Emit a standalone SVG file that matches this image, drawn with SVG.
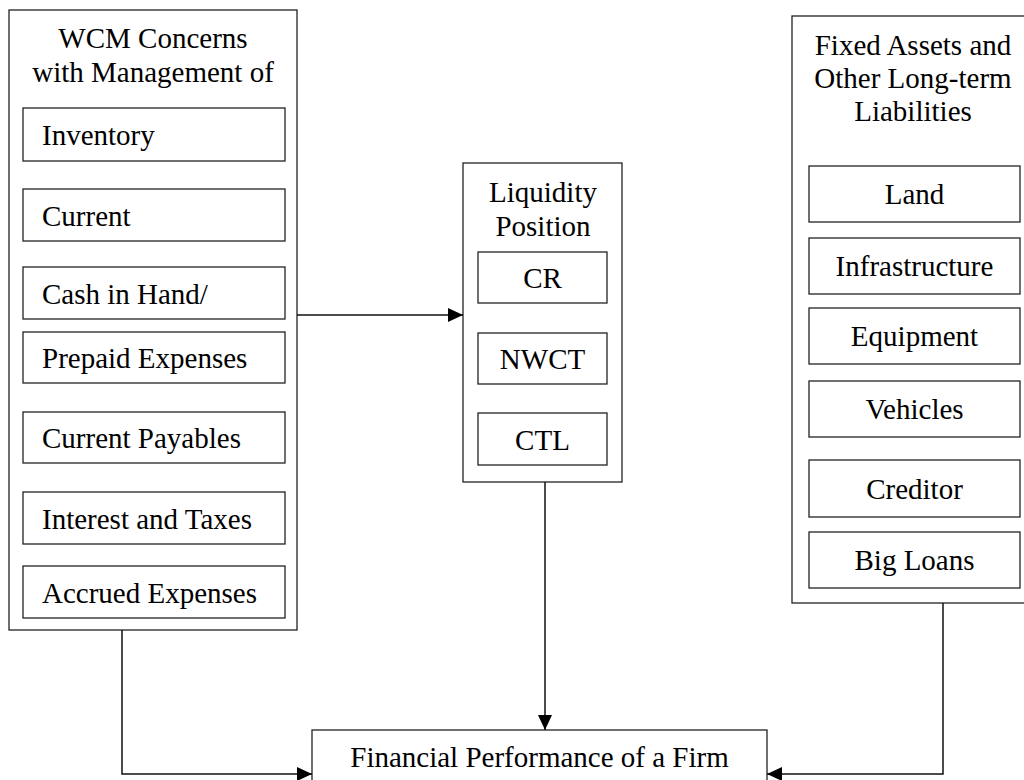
<svg xmlns="http://www.w3.org/2000/svg" width="1024" height="780" viewBox="0 0 1024 780">
<style>
.box{fill:#fff;stroke:#222;stroke-width:1.3}
.t{font-family:"Liberation Serif","Times New Roman",serif;font-size:29px;fill:#000}
.c{text-anchor:middle}
.conn{fill:none;stroke:#111;stroke-width:1.5}
</style>
<defs>
<marker id="arr" markerUnits="userSpaceOnUse" markerWidth="16" markerHeight="15" refX="15" refY="7" orient="auto">
<path d="M0,0 L15,7 L0,14 z" fill="#000"/>
</marker>
</defs>
<rect width="1024" height="780" fill="#fff"/>
<g id="wcm">
<rect class="box" x="9" y="10" width="288" height="620"/>
<text class="t c" x="153" y="48">WCM Concerns</text>
<text class="t c" x="153" y="82">with Management of</text>
</g>
<g id="inventory"><rect class="box" x="23" y="108" width="262" height="53"/><text class="t" x="42" y="145">Inventory</text></g>
<g id="current"><rect class="box" x="23" y="189" width="262" height="52"/><text class="t" x="42" y="225.5">Current</text></g>
<g id="cash"><rect class="box" x="23" y="267" width="262" height="52"/><text class="t" x="42" y="303.5">Cash in Hand/</text></g>
<g id="prepaid"><rect class="box" x="23" y="332" width="262" height="51"/><text class="t" x="42" y="368">Prepaid Expenses</text></g>
<g id="payables"><rect class="box" x="23" y="412" width="262" height="51"/><text class="t" x="42" y="448">Current Payables</text></g>
<g id="interest"><rect class="box" x="23" y="492" width="262" height="52"/><text class="t" x="42" y="528.5">Interest and Taxes</text></g>
<g id="accrued"><rect class="box" x="23" y="566" width="262" height="52"/><text class="t" x="42" y="602.5">Accrued Expenses</text></g>

<g id="liquidity">
<rect class="box" x="463" y="163" width="159" height="319"/>
<text class="t c" x="543" y="202">Liquidity</text>
<text class="t c" x="543" y="236">Position</text>
</g>
<g id="cr"><rect class="box" x="478" y="252" width="129" height="51"/><text class="t c" x="542.5" y="288">CR</text></g>
<g id="nwct"><rect class="box" x="478" y="333" width="129" height="51"/><text class="t c" x="542.5" y="369">NWCT</text></g>
<g id="ctl"><rect class="box" x="478" y="413" width="129" height="52"/><text class="t c" x="542.5" y="449.5">CTL</text></g>

<g id="fixed">
<rect class="box" x="792" y="16" width="250" height="587"/>
<text class="t c" x="913" y="55">Fixed Assets and</text>
<text class="t c" x="913" y="88">Other Long-term</text>
<text class="t c" x="913" y="121">Liabilities</text>
</g>
<g id="land"><rect class="box" x="809" y="166" width="211" height="56"/><text class="t c" x="914.5" y="204">Land</text></g>
<g id="infra"><rect class="box" x="809" y="238" width="211" height="56"/><text class="t c" x="914.5" y="276">Infrastructure</text></g>
<g id="equipment"><rect class="box" x="809" y="308" width="211" height="56"/><text class="t c" x="914.5" y="346">Equipment</text></g>
<g id="vehicles"><rect class="box" x="809" y="381" width="211" height="56"/><text class="t c" x="914.5" y="419">Vehicles</text></g>
<g id="creditor"><rect class="box" x="809" y="460" width="211" height="57"/><text class="t c" x="914.5" y="498.5">Creditor</text></g>
<g id="loans"><rect class="box" x="809" y="532" width="211" height="56"/><text class="t c" x="914.5" y="570">Big Loans</text></g>

<g id="performance">
<rect class="box" x="312" y="730" width="455" height="80"/>
<text class="t c" x="539.5" y="767">Financial Performance of a Firm</text>
</g>

<g id="connectors">
<path class="conn" d="M297,315 H463" marker-end="url(#arr)"/>
<path class="conn" d="M545,482 V730" marker-end="url(#arr)"/>
<path class="conn" d="M122,630 V774 H312" marker-end="url(#arr)"/>
<path class="conn" d="M943,603 V774 H767" marker-end="url(#arr)"/>
</g>
</svg>
